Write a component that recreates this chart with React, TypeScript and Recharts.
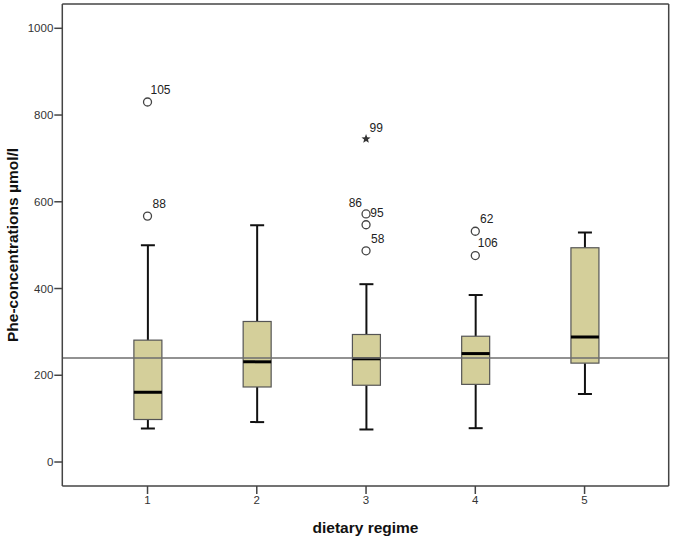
import React from 'react';
import {
  ComposedChart,
  Bar,
  Scatter,
  XAxis,
  YAxis,
  ReferenceLine,
} from 'recharts';

// dietary regime groups
const groups = [1, 2, 3, 4, 5];
const whiskerLow = [77, 92, 75, 78, 157];
const quartile1 = [98, 173, 177, 179, 228];
const medians = [161, 231, 238, 250, 288];
const quartile3 = [281, 324, 294, 290, 494];
const whiskerHigh = [500, 546, 410, 385, 529];

// outliers (circles) and extremes (stars), with case numbers
const outlierGroup = [1, 1, 3, 3, 3, 3, 4, 4];
const outlierValue = [830, 567, 745, 572, 547, 487, 532, 476];
const outlierLabel = ['105', '88', '99', '86', '95', '58', '62', '106'];
const outlierExtreme = [false, false, true, false, false, false, false, false];

const yTicks = [0, 200, 400, 600, 800, 1000];
const referenceValue = 240;

const FONT = "'Liberation Sans', Arial, sans-serif";

// label placement next to each marker: [dx, dy, anchor]
const labelOffset: Record<string, [number, number, 'start' | 'end']> = {
  '105': [3, -8.5, 'start'],
  '88': [5, -8, 'start'],
  '99': [3.5, -6.5, 'start'],
  '86': [-4, -6.5, 'end'],
  '95': [4.3, -7.4, 'start'],
  '58': [5, -7.4, 'start'],
  '62': [4.7, -8, 'start'],
  '106': [2.4, -9, 'start'],
};

const boxData = groups.map((g, i) => ({
  g,
  range: [whiskerLow[i], whiskerHigh[i]],
  lo: whiskerLow[i],
  q1: quartile1[i],
  med: medians[i],
  q3: quartile3[i],
  hi: whiskerHigh[i],
}));

const outlierData = outlierGroup.map((g, i) => ({
  g,
  v: outlierValue[i],
  label: outlierLabel[i],
  extreme: outlierExtreme[i],
}));

const BoxShape = (props: any) => {
  const { x, y, width, height, payload } = props;
  if (x == null || y == null) return null;
  const top = Math.min(y, y + height);
  const bottom = Math.max(y, y + height);
  const { lo, q1, med, q3, hi } = payload;
  const py = (v: number) => bottom - ((v - lo) / (hi - lo)) * (bottom - top);
  const cx = x + width / 2;
  const cap = 7;
  return (
    <g>
      <line x1={cx} x2={cx} y1={py(hi)} y2={py(q3)} stroke="#111" strokeWidth={2} />
      <line x1={cx} x2={cx} y1={py(q1)} y2={py(lo)} stroke="#111" strokeWidth={2} />
      <line x1={cx - cap} x2={cx + cap} y1={py(hi)} y2={py(hi)} stroke="#111" strokeWidth={2} />
      <line x1={cx - cap} x2={cx + cap} y1={py(lo)} y2={py(lo)} stroke="#111" strokeWidth={2} />
      <rect
        x={x}
        y={py(q3)}
        width={width}
        height={py(q1) - py(q3)}
        fill="#d4cf9a"
        stroke="#555"
        strokeWidth={1.2}
      />
      <line x1={x} x2={x + width} y1={py(med)} y2={py(med)} stroke="#000" strokeWidth={3} />
    </g>
  );
};

const starPath = (cx: number, cy: number, r: number) => {
  const pts: string[] = [];
  for (let k = 0; k < 10; k++) {
    const rad = k % 2 === 0 ? r : r * 0.42;
    const a = -Math.PI / 2 + (k * Math.PI) / 5;
    pts.push(`${(cx + rad * Math.cos(a)).toFixed(2)},${(cy + rad * Math.sin(a)).toFixed(2)}`);
  }
  return `M${pts.join('L')}Z`;
};

const OutlierShape = (props: any) => {
  const { cx, cy, payload } = props;
  if (cx == null || cy == null) return null;
  const [dx, dy, anchor] = labelOffset[payload.label] || [4, -8, 'start'];
  return (
    <g>
      {payload.extreme ? (
        <path d={starPath(cx, cy, 4.8)} fill="#333" />
      ) : (
        <circle cx={cx} cy={cy} r={4} fill="#fff" stroke="#444" strokeWidth={1.3} />
      )}
      <text
        x={cx + dx}
        y={cy + dy}
        textAnchor={anchor}
        fontSize={12}
        fontFamily={FONT}
        fill="#222"
      >
        {payload.label}
      </text>
    </g>
  );
};

const YTitle = (props: any) => {
  const { viewBox } = props;
  const cx = 12;
  const cy = viewBox.y + viewBox.height / 2;
  return (
    <text
      x={cx}
      y={cy}
      transform={`rotate(-90, ${cx}, ${cy})`}
      textAnchor="middle"
      dominantBaseline="central"
      fontSize={15.5}
      fontWeight="bold"
      fontFamily={FONT}
      fill="#111"
    >
      Phe-concentrations µmol/l
    </text>
  );
};

const XTitle = (props: any) => {
  const { viewBox } = props;
  const cx = viewBox.x + viewBox.width / 2;
  return (
    <text
      x={cx}
      y={527}
      textAnchor="middle"
      dominantBaseline="central"
      fontSize={15.5}
      fontWeight="bold"
      fontFamily={FONT}
      fill="#111"
    >
      dietary regime
    </text>
  );
};

const xDomain = [0.22, 5.77];
const yDomain = [-55.3, 1056];

export default function App() {
  return (
    <div style={{ position: 'absolute', left: 0, top: 0, background: '#fff' }}>
      <ComposedChart
        width={673}
        height={538}
        data={boxData}
        margin={{ top: 4, right: 4.3, bottom: 0, left: 0 }}
      >
        <XAxis
          xAxisId="main"
          dataKey="g"
          type="number"
          domain={xDomain}
          ticks={groups}
          allowDataOverflow
          height={52}
          tickSize={8}
          tickMargin={2}
          axisLine={{ stroke: '#444', strokeWidth: 1.5 }}
          tickLine={{ stroke: '#444', strokeWidth: 1.5 }}
          tick={{ fontSize: 11.5, fontFamily: FONT, fill: '#333' }}
          label={<XTitle />}
        />
        <YAxis
          yAxisId="main"
          type="number"
          domain={yDomain}
          ticks={yTicks}
          allowDataOverflow
          width={62.3}
          tickSize={8}
          tickMargin={1}
          axisLine={{ stroke: '#444', strokeWidth: 1.5 }}
          tickLine={{ stroke: '#444', strokeWidth: 1.5 }}
          tick={{ fontSize: 11.5, fontFamily: FONT, fill: '#333' }}
          label={<YTitle />}
        />
        <Bar
          xAxisId="main"
          yAxisId="main"
          dataKey="range"
          barSize={28}
          shape={<BoxShape />}
          isAnimationActive={false}
        />
        <ReferenceLine
          xAxisId="main"
          yAxisId="main"
          y={referenceValue}
          stroke="#6e6e6e"
          strokeWidth={1.5}
        />
        {/* frame: top and right edges of the plot */}
        <ReferenceLine
          xAxisId="main"
          yAxisId="main"
          y={yDomain[1]}
          stroke="#444"
          strokeWidth={1.5}
          ifOverflow="visible"
        />
        <ReferenceLine
          xAxisId="main"
          yAxisId="main"
          x={xDomain[1]}
          stroke="#444"
          strokeWidth={1.5}
          ifOverflow="visible"
        />
        <Scatter
          xAxisId="main"
          yAxisId="main"
          data={outlierData}
          dataKey="v"
          shape={<OutlierShape />}
          isAnimationActive={false}
        />
      </ComposedChart>
    </div>
  );
}
